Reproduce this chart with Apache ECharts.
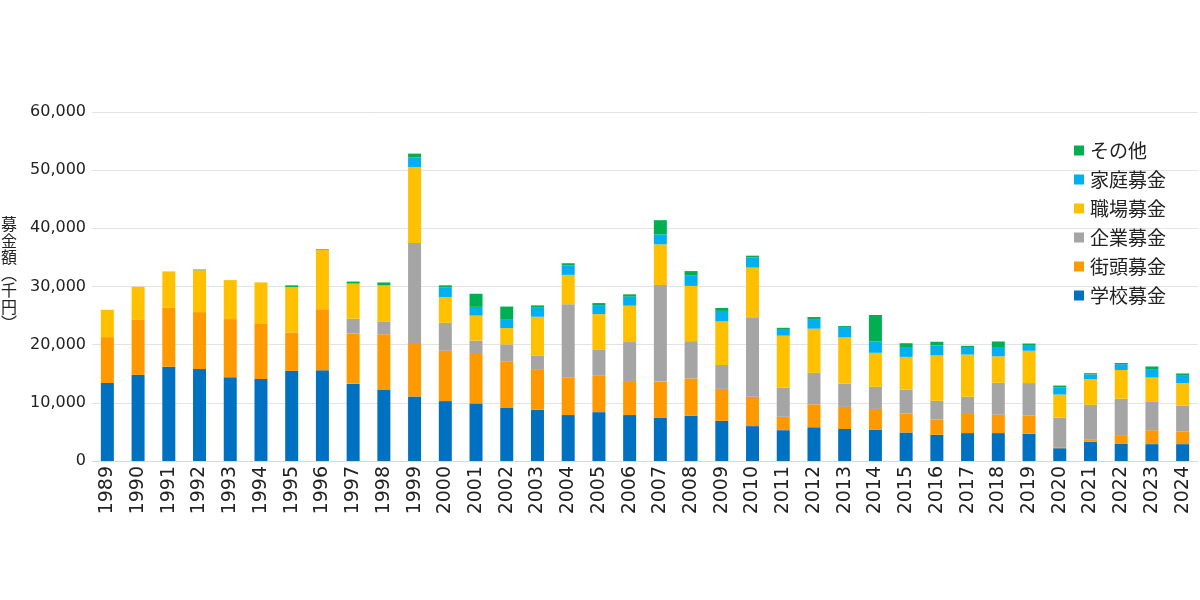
<!DOCTYPE html>
<html><head><meta charset="utf-8">
<script src="https://cdn.jsdelivr.net/npm/echarts@6/dist/echarts.min.js"></script>
<style>html,body{margin:0;padding:0;background:#fff}#c{width:1200px;height:600px}</style>
</head><body><div id="c"></div>
<script>
const years = ['1989','1990','1991','1992','1993','1994','1995','1996','1997','1998','1999','2000','2001','2002','2003','2004','2005','2006','2007','2008','2009','2010','2011','2012','2013','2014','2015','2016','2017','2018','2019','2020','2021','2022','2023','2024'];
const school   = [13400,14800,16200,15800,14400,14100,15500,15600,13300,12200,11100,10300,9900,9200,8800,7900,8400,7900,7400,7800,6900,6000,5300,5800,5500,5400,4900,4500,4800,4800,4700,2200,3300,3000,2900,2900];
const street   = [7900,9550,10200,9800,10000,9450,6600,10500,8600,9600,9200,8650,8500,7950,7000,6400,6250,5850,6250,6400,5500,5050,2300,3950,3800,3550,3250,2650,3450,3150,3100,170,350,1450,2400,2200];
const company  = [0,0,0,0,0,0,0,0,2550,2200,17200,4800,2300,2900,2350,12650,4450,6700,16600,6400,4100,13650,5000,5400,4000,3800,4150,3200,2800,5500,5600,5100,6000,6250,4850,4400];
const workplace= [4700,5600,6200,7200,6700,7150,7800,10250,6050,6200,13050,4450,4300,2800,6650,5050,6150,6250,7000,9500,7500,8550,8950,7600,7950,5850,5600,7800,7250,4550,5550,3950,4450,4950,4200,3900];
const home     = [0,0,0,0,0,0,0,0,0,0,1650,1600,1500,1550,1550,1600,1550,1550,1700,1850,1800,1750,1000,1650,1650,1950,1700,1700,1300,1600,850,1200,800,1000,1450,1250];
const other    = [0,0,0,120,0,0,300,100,350,500,650,400,2250,2150,400,400,350,400,2450,700,500,300,350,350,300,4550,650,650,200,950,400,350,200,200,450,400];
const yTicks = [0,10000,20000,30000,40000,50000,60000];

const names = ['学校募金','街頭募金','企業募金','職場募金','家庭募金','その他'];
const colors = ['#0070C0','#FF9900','#A5A5A5','#FFC000','#00B0F0','#00B050'];
const data = [school, street, company, workplace, home, other];

const chart = echarts.init(document.getElementById('c'));
chart.setOption({
  animation:false,
  color: colors,
  grid:{left:92,right:2,top:112,bottom:139,containLabel:false},
  legend:{
    orient:'vertical', left:1069, top:136, itemGap:10, itemWidth:10, itemHeight:10,
    icon:'rect', data:names.slice().reverse(),
    textStyle:{fontSize:19,color:'#222',fontFamily:'Noto Sans CJK JP',padding:[0,0,0,1]}
  },
  graphic:[{
    type:'text', left:1, top:216,
    style:{text:'募\n金\n額\n︵\n千\n円\n︶', fontSize:16, lineHeight:16.5, fill:'#222',
      fontFamily:'Noto Sans CJK JP', align:'left'}
  }],
  xAxis:{
    type:'category', data:years,
    axisLine:{lineStyle:{color:'#d9d9d9'}}, axisTick:{show:false},
    axisLabel:{rotate:90,fontSize:19,color:'#222',margin:5,fontFamily:'DejaVu Sans',interval:0}
  },
  yAxis:{
    type:'value', min:0, max:60000, interval:10000,
    axisLine:{show:false}, axisTick:{show:false},
    splitLine:{lineStyle:{color:'#e3e3e3'}},
    axisLabel:{fontSize:16,color:'#222',margin:6,fontFamily:'DejaVu Sans',
      formatter:v=>yTicks.includes(v)?v.toLocaleString('en-US'):''}
  },
  series: names.map((n,i)=>({
    name:n, type:'bar', stack:'total', barWidth:13, data:data[i],
    itemStyle:{color:colors[i]}
  }))
});
</script></body></html>
